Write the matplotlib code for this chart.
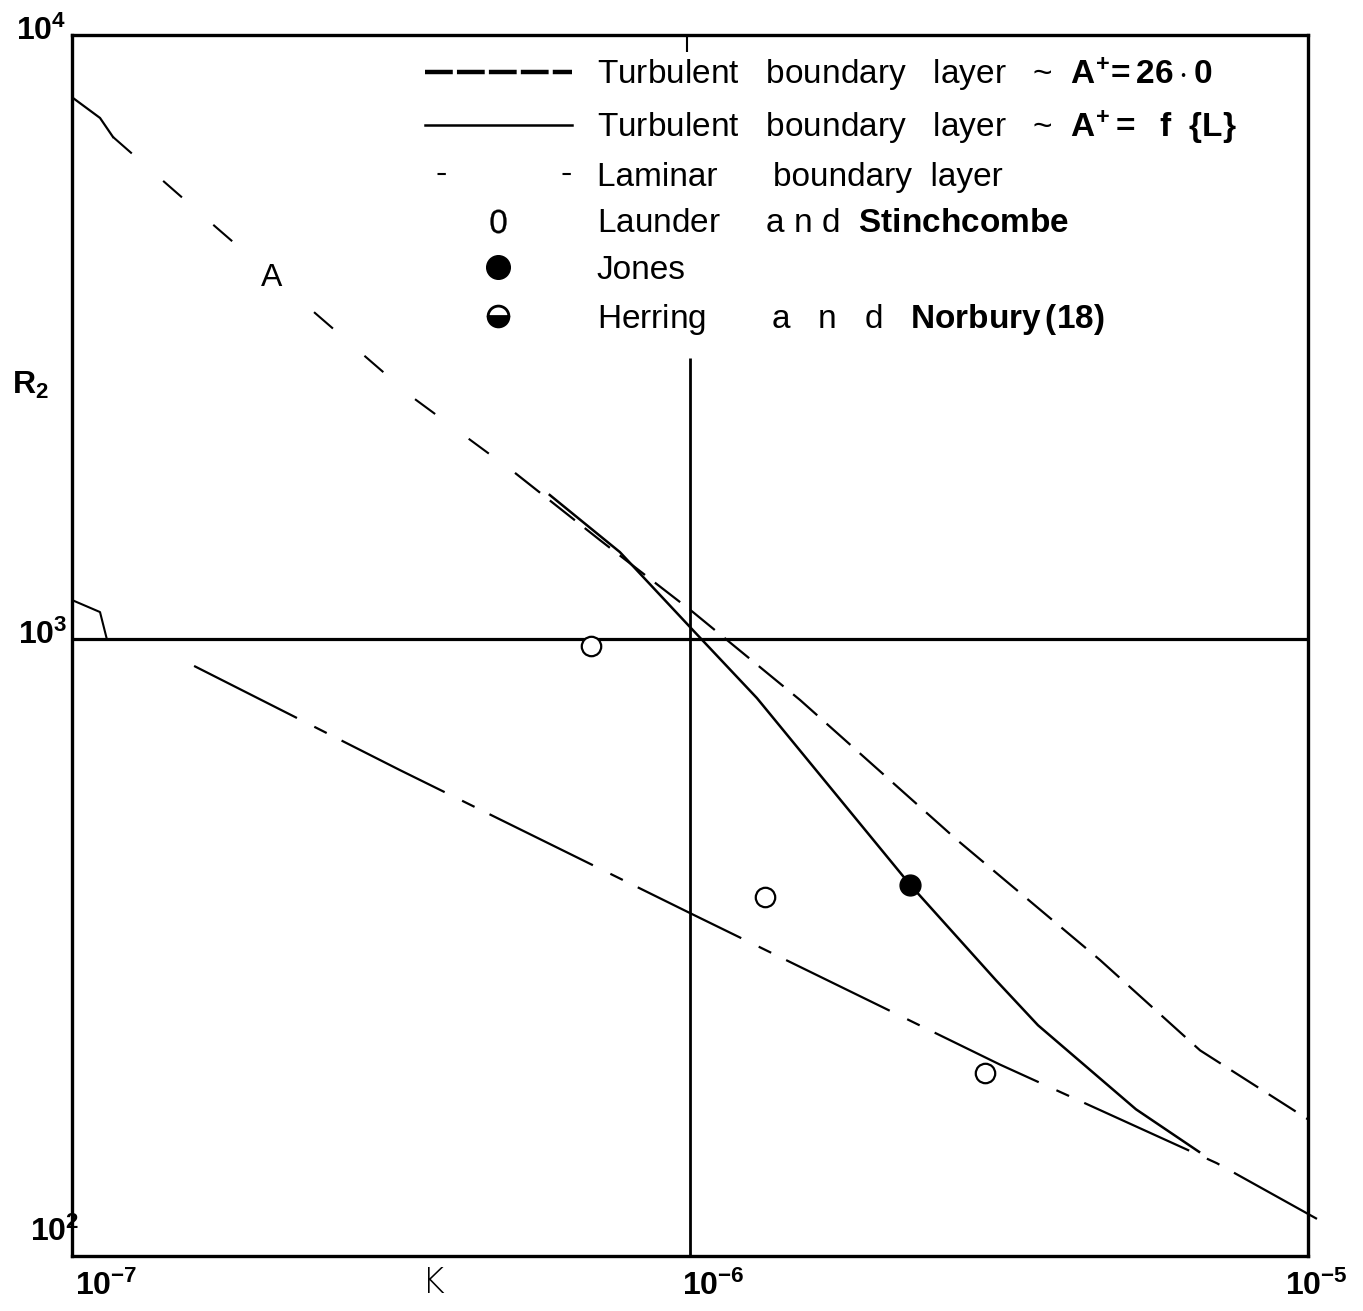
import matplotlib
matplotlib.use('Agg')
import matplotlib.pyplot as plt
from matplotlib.lines import Line2D

plt.rcParams['font.family'] = ['Liberation Sans', 'DejaVu Sans']
plt.rcParams['mathtext.fontset'] = 'custom'
plt.rcParams['mathtext.rm'] = 'Liberation Sans'
plt.rcParams['mathtext.it'] = 'Liberation Sans'
plt.rcParams['mathtext.bf'] = 'Liberation Sans:bold'
plt.rcParams['lines.scale_dashes'] = False

# ---------------- data ----------------
# Turbulent boundary layer, A+ = 26.0  (dashed)
turb26_K = [1.0e-7, 1.11e-7, 1.165e-7, 1.716e-7, 2.473e-7, 3.549e-7, 5.21e-7,
            7.15e-7, 1.011e-6, 1.507e-6, 2.704e-6, 4.606e-6, 6.69e-6, 1.007e-5]
turb26_R2 = [7889, 7291, 6781, 4794, 3468, 2519, 1886,
             1460, 1110, 794, 466, 295, 209, 160]
# Turbulent boundary layer, A+ = f(L)  (solid)
turbfL_K = [5.93e-7, 7.70e-7, 1.011e-6, 1.283e-6, 2.270e-6, 3.127e-6,
            3.657e-6, 5.268e-6, 6.664e-6]
turbfL_R2 = [1734, 1395, 1036, 800, 393, 273, 230, 167, 142]
# Laminar boundary layer  (long dash - short dash)
lam_K = [1.576e-7, 3.393e-7, 1.015e-6, 3.174e-6, 7.12e-6, 1.034e-5]
lam_R2 = [904, 608, 350, 198, 136, 110]
# Experimental points
launder_K = [6.92e-7, 1.32e-6, 3.00e-6]
launder_R2 = [975, 375, 192]
jones_K = [2.27e-6]
jones_R2 = [393]
# small stroke near the 10^3 line at the left edge
corner_K = [1.0e-7, 1.11e-7, 1.139e-7]
corner_R2 = [1162, 1110, 1000]
# reference lines
ref_K = 1e-6
ref_R2 = 1000
ref_vline_top = 2922

x_ticks = [1e-7, 1e-6, 1e-5]
x_ticklabels = [r'$\mathbf{10^{-7}}$', r'$\mathbf{10^{-6}}$', r'$\mathbf{10^{-5}}$']
y_ticks = [1e2, 1e3, 1e4]
y_ticklabels = [r'$\mathbf{10^{2}}$', r'$\mathbf{10^{3}}$', r'$\mathbf{10^{4}}$']

legend_labels = [
    r'Turbulent   boundary   layer   ~  $\mathbf{A^{+}\!=26\cdot0}$',
    r'Turbulent   boundary   layer   ~  $\mathbf{A^{+}=\ \ f\ \ \{L\}}$',
    'Laminar      boundary  layer',
    r'Launder     a n d $\ \mathbf{Stinchcombe}$',
    'Jones',
    r'Herring       a   n   d   $\mathbf{Norbury\,(18)}$',
]

# ---------------- figure ----------------
fig = plt.figure(figsize=(13.63, 13.11), dpi=100)
ax = fig.add_axes([72 / 1363, 55 / 1311, 1236 / 1363, 1221 / 1311])
ax.set_xscale('log')
ax.set_yscale('log')
ax.set_xlim(1e-7, 1e-5)
ax.set_ylim(10 ** 1.98, 1e4)

for s in ax.spines.values():
    s.set_linewidth(2.4)
ax.tick_params(which='both', length=0, labelbottom=False, labelleft=False)
ax.minorticks_off()

# reference lines
ax.axhline(ref_R2, color='k', lw=2.3)
ax.vlines(ref_K, 10 ** 1.98, ref_vline_top, color='k', lw=2.0)
ax.vlines(ref_K * 0.99, 9375, 1e4, color='k', lw=1.5)

# turbulent A+=26 curve: continuous start, sparse dashes, then regular dashes
ax.plot(turb26_K[:3], turb26_R2[:3], color='k', lw=1.6)
ax.plot(turb26_K[2:7], turb26_R2[2:7], color='k', lw=1.5, dashes=(18, 30))
ax.plot(turb26_K[6:], turb26_R2[6:], color='k', lw=1.6, dashes=(23, 9))

# turbulent A+=f(L) curve
ax.plot(turbfL_K, turbfL_R2, color='k', lw=1.8)

# laminar curve
ax.plot(lam_K, lam_R2, color='k', lw=1.6, dashes=(83, 14, 10, 12), clip_on=False)

# corner stroke
ax.plot(corner_K, corner_R2, color='k', lw=1.5)

# experimental points
ax.plot(launder_K, launder_R2, ls='none', marker='o', ms=14, mfc='white',
        mec='k', mew=1.6, zorder=5)
ax.plot(jones_K, jones_R2, ls='none', marker='o', ms=15, mfc='k', mec='k', zorder=5)

# tick labels
xt = ax.get_xaxis_transform()
x_offsets = [(3, -30), (-8, -30), (-23, -30)]
for k, lab, off in zip(x_ticks, x_ticklabels, x_offsets):
    ax.annotate(lab, xy=(k, 0), xycoords=xt, xytext=off, textcoords='offset pixels',
                ha='left', va='center', fontsize=23)
yt = ax.get_yaxis_transform()
y_offsets = [(7, 12), (-4, 4), (-6, 4)]
for v, lab, off in zip(y_ticks, y_ticklabels, y_offsets):
    ax.annotate(lab, xy=(0, v), xycoords=yt, xytext=off, textcoords='offset pixels',
                ha='right', va='center', fontsize=23)

# axis labels and annotation
ax.text(-0.034, 0.713, r'$\mathbf{R_2}$', transform=ax.transAxes, ha='center',
        va='center', fontsize=23)
ax.text(0.292, -0.022, 'K', transform=ax.transAxes, ha='center', va='center',
        fontsize=25, family='DejaVu Sans', fontweight='light')
ax.text(0.1618, 0.801, 'A', transform=ax.transAxes, ha='center', va='center',
        fontsize=23, zorder=6,
        bbox=dict(boxstyle='square,pad=0.25', fc='white', ec='none'))

# legend
handles = [
    Line2D([], [], color='k', lw=3.2, dashes=(20, 3)),
    Line2D([], [], color='k', lw=1.8),
    Line2D([], [], color='k', lw=1.5, linestyle=(81, (6, 84))),
    Line2D([], [], ls='none', marker='$0$', color='k', ms=17, mew=0.2),
    Line2D([], [], ls='none', marker='o', mfc='k', mec='k', ms=17),
    Line2D([], [], ls='none', marker='o', fillstyle='bottom', mfc='k', mec='k',
           markerfacecoloralt='white', ms=15, mew=2),
]
leg = ax.legend(handles, legend_labels, loc='upper left',
                bbox_to_anchor=(0.2856, 0.9835), borderaxespad=0, borderpad=0,
                frameon=False, fontsize=24, handlelength=4.4, handletextpad=0.75,
                labelspacing=0.47)

fig.savefig('out.png', dpi=100, facecolor='white')
